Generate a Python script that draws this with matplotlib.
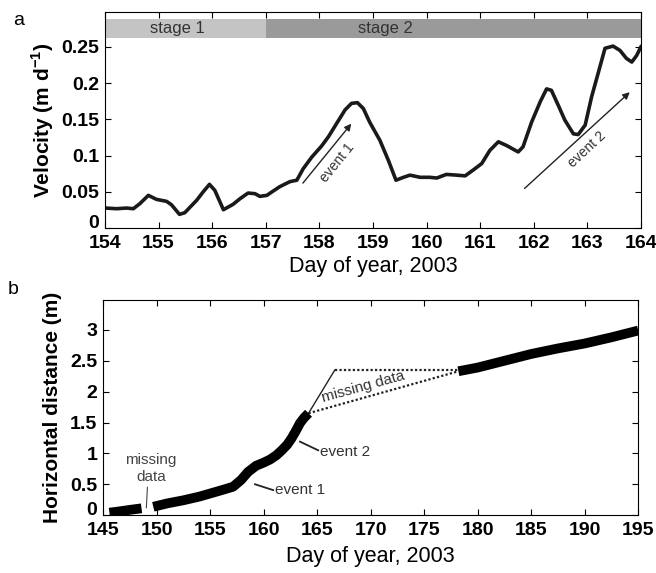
import numpy as np
import matplotlib
matplotlib.use('Agg')
import matplotlib.pyplot as plt

plt.rcParams['font.family'] = ['Liberation Sans', 'DejaVu Sans']
plt.rcParams['mathtext.fontset'] = 'custom'
plt.rcParams['mathtext.bf'] = 'Liberation Sans:bold'
plt.rcParams['mathtext.rm'] = 'Liberation Sans'

# panel a: velocity
day_a = [154.0, 154.22, 154.40, 154.53, 154.65, 154.81, 154.96, 155.15, 155.24, 155.39,
         155.49, 155.62, 155.71, 155.83, 155.95, 156.05, 156.21, 156.39, 156.52, 156.67,
         156.80, 156.89, 157.02, 157.14, 157.26, 157.45, 157.58, 157.70, 157.86, 158.04,
         158.17, 158.32, 158.48, 158.60, 158.71, 158.82, 158.94, 159.13, 159.29, 159.43,
         159.57, 159.69, 159.88, 160.06, 160.19, 160.37, 160.56, 160.72, 160.87, 161.03,
         161.18, 161.34, 161.49, 161.71, 161.80, 161.96, 162.12, 162.24, 162.33, 162.46,
         162.58, 162.74, 162.83, 162.96, 163.08, 163.20, 163.33, 163.48, 163.61, 163.73,
         163.83, 163.92, 164.0]
vel = [0.0276, 0.0267, 0.0276, 0.0267, 0.0336, 0.0451, 0.0396, 0.0368, 0.0322, 0.0189,
       0.0212, 0.0313, 0.0382, 0.0497, 0.0603, 0.052, 0.0253, 0.0327, 0.0405, 0.0483,
       0.0474, 0.0437, 0.0451, 0.0511, 0.057, 0.064, 0.066, 0.082, 0.098, 0.113,
       0.126, 0.144, 0.163, 0.172, 0.173, 0.165, 0.146, 0.121, 0.093, 0.066,
       0.070, 0.073, 0.070, 0.070, 0.069, 0.074, 0.073, 0.072, 0.080, 0.089,
       0.107, 0.119, 0.114, 0.105, 0.112, 0.146, 0.174, 0.192, 0.190, 0.169,
       0.149, 0.130, 0.129, 0.142, 0.181, 0.213, 0.248, 0.251, 0.245, 0.234,
       0.229, 0.238, 0.250]
stages = ['stage 1', 'stage 2']
stage_start = [154, 157]
stage_end = [157, 164]

# panel b: horizontal distance
day_b1 = [145.6, 146.5, 147.5, 148.6]
dist_b1 = [0.04, 0.06, 0.085, 0.11]
day_b2 = [149.7, 151.0, 152.5, 154.0, 155.0, 156.2, 157.15, 157.9, 158.55, 159.3,
          160.0, 160.6, 161.2, 161.7, 162.2, 162.6, 163.0, 163.4, 163.8, 164.2]
dist_b2 = [0.135, 0.19, 0.24, 0.30, 0.35, 0.41, 0.46, 0.57, 0.70, 0.80,
           0.85, 0.90, 0.97, 1.05, 1.14, 1.24, 1.36, 1.49, 1.58, 1.65]
day_b3 = [178.2, 180.0, 182.5, 185.0, 187.5, 190.0, 192.5, 195.0]
dist_b3 = [2.33, 2.39, 2.50, 2.61, 2.70, 2.78, 2.88, 2.99]
gap_day = [164.2, 166.65, 178.2]
gap_dist = [1.65, 2.35, 2.35]

fig = plt.figure(figsize=(6.56, 5.73), dpi=100)
tick_font = dict(fontsize=14, fontweight='bold')


def lift_zero(axis):
    # the "0" label sits a bit above the corner, as in the original
    axis.get_yticklabels()[0].set_va('baseline')


# ---- panel a
ax = fig.add_axes([0.160, 0.602, 0.817, 0.377])
ax.plot(day_a, vel, color='#1a1a1a', lw=2.6)
for s, x0, x1, c in zip(stages, stage_start, stage_end, ['#c4c4c4', '#9a9a9a']):
    ax.fill_between([x0, x1], 0.262, 0.289, color=c, lw=0)
ax.text(155.36, 0.2755, stages[0], ha='center', va='center', fontsize=12, color='#333333')
ax.text(159.24, 0.2755, stages[1], ha='center', va='center', fontsize=12, color='#333333')
ax.annotate('', xy=(158.63, 0.147), xytext=(157.66, 0.059),
            arrowprops=dict(arrowstyle='-|>', color='#222222', lw=1, mutation_scale=10))
ax.annotate('', xy=(163.83, 0.19), xytext=(161.79, 0.052),
            arrowprops=dict(arrowstyle='-|>', color='#222222', lw=1, mutation_scale=10))
ax.text(158.33, 0.09, 'event 1', rotation=51, ha='center', va='center', fontsize=10, color='#333333')
ax.text(163.0, 0.108, 'event 2', rotation=43, ha='center', va='center', fontsize=10, color='#333333')
ax.set_xlim(154, 164)
ax.set_ylim(0, 0.298)
ax.set_xticks(np.arange(154, 165, 1))
ax.set_yticks([0, 0.05, 0.1, 0.15, 0.2, 0.25])
ax.set_yticklabels(['0', '0.05', '0.1', '0.15', '0.2', '0.25'], **tick_font)
ax.set_xticklabels([str(d) for d in range(154, 165)], **tick_font)
lift_zero(ax)
ax.set_xlabel('Day of year, 2003', fontsize=15.5, labelpad=3)
ax.set_ylabel(r'Velocity (m d$^{\mathbf{-1}}$)', fontsize=15, fontweight='bold', labelpad=4)
ax.tick_params(direction='in', top=True, right=True, length=4)
ax.tick_params(axis='x', pad=5)
ax.tick_params(axis='y', pad=4)
fig.text(0.02, 0.965, 'a', fontsize=14, va='center')

# ---- panel b
bx = fig.add_axes([0.157, 0.101, 0.816, 0.375])
bx.plot(gap_day[:2], gap_dist[:2], color='#222222', lw=1)
bx.plot(gap_day[1:], gap_dist[1:], color='#222222', lw=1.6, ls=(0, (1, 1)))
bx.plot([gap_day[0], gap_day[2]], [gap_dist[0], dist_b3[0]], color='#222222', lw=1.6, ls=(0, (1, 1)))
for dd, yy in [(day_b1, dist_b1), (day_b2, dist_b2), (day_b3, dist_b3)]:
    bx.plot(dd, yy, color='black', lw=7, solid_capstyle='butt')
bx.text(169.3, 2.08, 'missing data', rotation=15.5, ha='center', va='center', fontsize=11, color='#333333')
bx.text(149.5, 0.89, 'missing', ha='center', va='center', fontsize=11, color='#444444')
bx.text(149.5, 0.62, 'data', ha='center', va='center', fontsize=11, color='#444444')
bx.plot([149.15, 149.05], [0.45, 0.12], color='#444444', lw=0.8)
bx.plot([159.2, 160.9], [0.50, 0.405], color='#222222', lw=1.3)
bx.text(161.1, 0.40, 'event 1', ha='left', va='center', fontsize=11, color='#333333')
bx.plot([163.4, 165.1], [1.19, 1.05], color='#222222', lw=1.3)
bx.text(165.3, 1.03, 'event 2', ha='left', va='center', fontsize=11, color='#333333')
bx.set_xlim(145, 195)
bx.set_ylim(0, 3.48)
bx.set_xticks(np.arange(145, 196, 5))
bx.set_xticklabels([str(d) for d in range(145, 196, 5)], **tick_font)
bx.set_yticks([0, 0.5, 1, 1.5, 2, 2.5, 3])
bx.set_yticklabels(['0', '0.5', '1', '1.5', '2', '2.5', '3'], **tick_font)
lift_zero(bx)
bx.set_xlabel('Day of year, 2003', fontsize=15.5, labelpad=5)
bx.set_ylabel('Horizontal distance (m)', fontsize=15, fontweight='bold', labelpad=6)
bx.tick_params(direction='in', top=True, right=True, length=4)
bx.tick_params(axis='x', pad=5)
bx.tick_params(axis='y', pad=4)
fig.text(0.012, 0.495, 'b', fontsize=14, va='center')

fig.savefig('out.png', dpi=100)
